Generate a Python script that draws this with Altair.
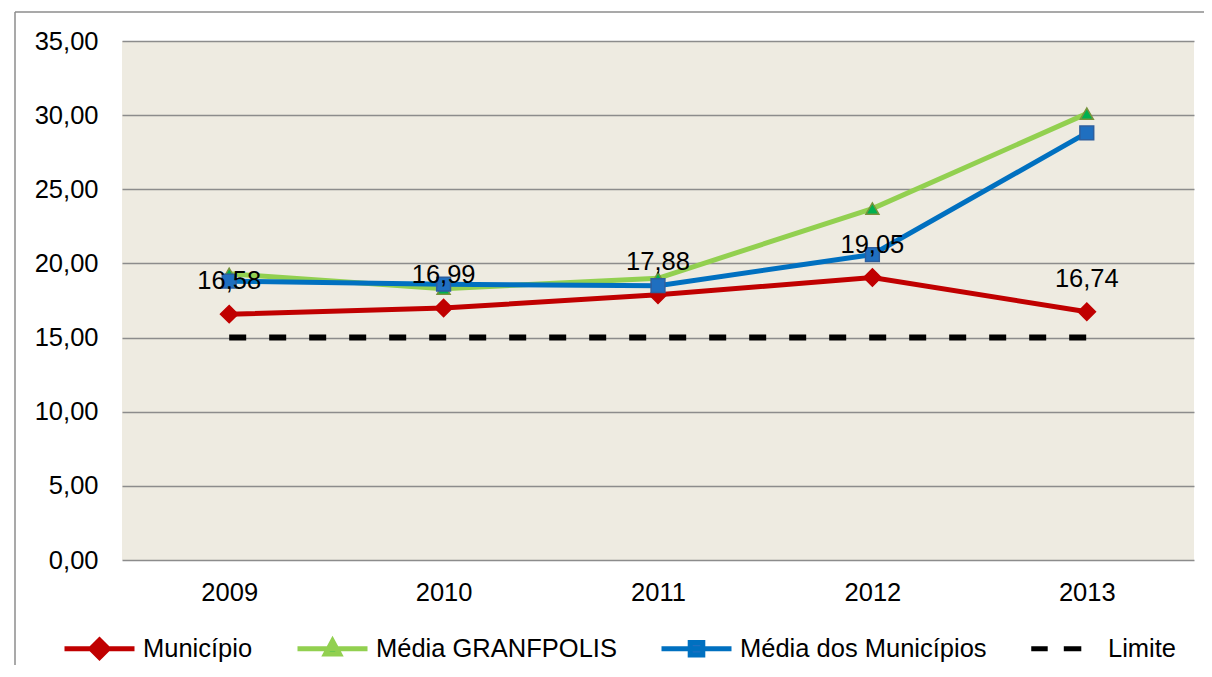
import altair as alt
import pandas as pd

anos = ["2009", "2010", "2011", "2012", "2013"]
municipio = [16.58, 16.99, 17.88, 19.05, 16.74]
granfpolis = [19.3, 18.3, 19.0, 23.7, 30.1]
media_municipios = [18.8, 18.6, 18.5, 20.6, 28.8]
limite = [15.0, 15.0, 15.0, 15.0, 15.0]

series = ["Município", "Média GRANFPOLIS", "Média dos Municípios", "Limite"]
line_colors = ["#C00000", "#92D050", "#0070C0", "#000000"]
marker_fill = ["#C00000", "#00B050", "#1F6FC0", "#000000"]
marker_stroke = ["#C00000", "#77933C", "#2E5F9E", "#000000"]
marker_shapes = ["diamond", "triangle-up", "square", "circle"]
marker_sizes = [300, 170, 190, 0]

rows = []
for nome, vals in zip(series, [municipio, granfpolis, media_municipios, limite]):
    for a, v in zip(anos, vals):
        rows.append({"ano": a, "valor": v, "serie": nome})
df = pd.DataFrame(rows)

FONT = "Liberation Sans"
FS = 25.5

x_enc = alt.X("ano:O", scale=alt.Scale(type="point", padding=0.5, domain=anos),
              axis=alt.Axis(title=None, labelAngle=0, ticks=False, domain=False, grid=False,
                            labelPadding=20, labelFontSize=FS, labelFont=FONT, labelColor="#000000"))
y_enc = alt.Y("valor:Q", scale=alt.Scale(domain=[0, 35], nice=False),
              axis=alt.Axis(title=None, values=[0, 5, 10, 15, 20, 25, 30, 35], ticks=False, tickSize=0,
                            domain=False, grid=True, gridColor="#8C8C8C", gridWidth=1.6,
                            labelExpr="replace(format(datum.value, '.2f'), '.', ',')",
                            labelPadding=24, labelFontSize=FS, labelFont=FONT, labelColor="#000000"))

base = alt.Chart(df)

layers = []
# frame decoration (outer chart border; only its left and top edges fall inside the window)
frame = alt.Chart(alt.Data(values=[{}]))
layers.append(frame.mark_rule(color="#8C8C8C", strokeWidth=1.5).encode(
    x=alt.value(-107), y=alt.value(-29), y2=alt.value(900)))
layers.append(frame.mark_rule(color="#8C8C8C", strokeWidth=1.5).encode(
    x=alt.value(-107), x2=alt.value(1400), y=alt.value(-29)))

for i, nome in enumerate(series[:3]):
    sub = base.transform_filter(alt.datum.serie == nome)
    layers.append(sub.mark_line(color=line_colors[i], strokeWidth=5).encode(x=x_enc, y=y_enc))
    layers.append(sub.mark_point(shape=marker_shapes[i], size=marker_sizes[i], filled=True,
                                 fill=marker_fill[i], stroke=marker_stroke[i], strokeWidth=1.5,
                                 opacity=1).encode(x=x_enc, y=y_enc))

layers.append(base.transform_filter(alt.datum.serie == "Limite").mark_line(
    color="#000000", strokeWidth=6, strokeDash=[17, 23], strokeCap="butt").encode(x=x_enc, y=y_enc))

layers.append(base.transform_filter(alt.datum.serie == "Município").transform_calculate(
    rotulo="replace(format(datum.valor, '.2f'), '.', ',')").mark_text(
    font=FONT, fontSize=FS, color="#000000", baseline="middle", dy=-33).encode(
    x=x_enc, y=y_enc, text="rotulo:N"))

# legend symbols: line + marker; the zero-length segments give every symbol the same height
legend_paths = [
    "M0,-0.4L0,-0.4M0,0.4L0,0.4M-1,0L1,0M0,-0.25L0.25,0L0,0.25L-0.25,0Z",
    "M0,-0.4L0,-0.4M0,0.4L0,0.4M-1,0L1,0M0,-0.22L0.2,0.15L-0.2,0.15Z",
    "M0,-0.4L0,-0.4M0,0.4L0,0.4M-1,0L1,0M-0.18,-0.18L0.18,-0.18L0.18,0.18L-0.18,0.18Z",
    "M0,-0.4L0,-0.4M0,0.4L0,0.4M-0.95,0L-0.48,0M-0.02,0L0.48,0M1,0L1,0",
]
legend_layer = base.transform_filter("false").mark_point(filled=True, opacity=1, strokeWidth=5).encode(
    x=x_enc, y=y_enc,
    fill=alt.Fill("serie:N", scale=alt.Scale(domain=series, range=marker_fill), title=None),
    stroke=alt.Stroke("serie:N", scale=alt.Scale(domain=series, range=line_colors), title=None),
    shape=alt.Shape("serie:N", scale=alt.Scale(domain=series, range=legend_paths), title=None),
)
layers.append(legend_layer)

chart = alt.layer(*layers).properties(
    width=1072, height=519,
    background="#FFFFFF",
    autosize=alt.AutoSizeParams(type="none"),
    padding={"left": 114, "top": 33, "right": 10, "bottom": 105},
).configure_view(fill="#EEEBE1", stroke=None).configure_legend(
    orient="none", legendX=-60, legendY=570, direction="horizontal", columns=4,
    symbolSize=4900, symbolStrokeWidth=5, symbolOpacity=1,
    labelFont=FONT, labelFontSize=FS, labelColor="#000000", labelLimit=500,
    labelOffset=6, columnPadding=34, padding=0, title=None,
)

chart.save("out.html", embed_options={"renderer": "svg", "actions": False})
